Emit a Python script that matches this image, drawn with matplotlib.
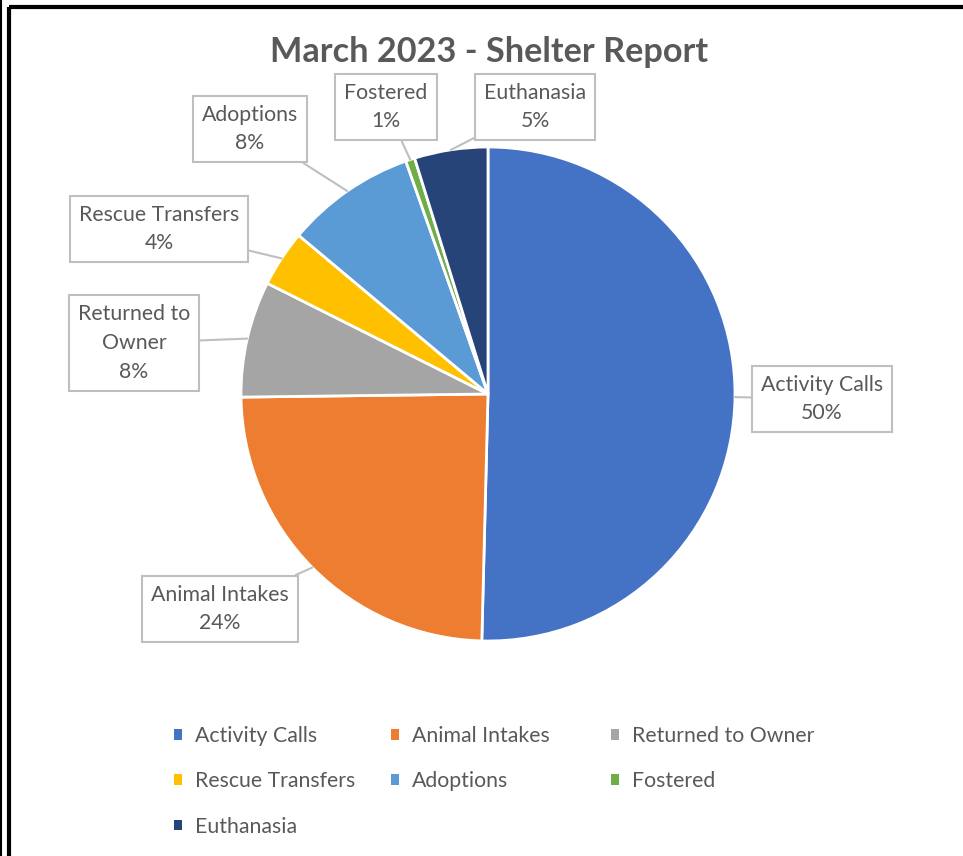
import matplotlib
matplotlib.use('Agg')
import matplotlib.pyplot as plt
from matplotlib.patches import Patch
import numpy as np

# data (percent of total)
categories = ['Activity Calls', 'Animal Intakes', 'Returned to Owner',
              'Rescue Transfers', 'Adoptions', 'Fostered', 'Euthanasia']
values = [50.4, 24.4, 7.6, 3.7, 8.5, 0.6, 4.8]
colors = ['#4472C4', '#ED7D31', '#A5A5A5', '#FFC000', '#5B9BD5', '#70AD47', '#264478']
label_text = ['Activity Calls\n50%', 'Animal Intakes\n24%', 'Returned to\nOwner\n8%',
              'Rescue Transfers\n4%', 'Adoptions\n8%', 'Fostered\n1%', 'Euthanasia\n5%']

W, H = 963, 856
plt.rcParams['font.family'] = ['Lato', 'DejaVu Sans']
txt_color = '#595959'
fs = 15.3

fig = plt.figure(figsize=(W / 100, H / 100), dpi=100)
ax = fig.add_axes([0, 0, 1, 1])

cx, cy, r = 488, H - 394, 247
wedges, _ = ax.pie(values, colors=colors, startangle=90, counterclock=False,
                   center=(cx, cy), radius=r, frame=True,
                   wedgeprops=dict(edgecolor='white', linewidth=2))
ax.set_xlim(0, W)
ax.set_ylim(0, H)
ax.set_aspect('equal')
ax.axis('off')

# callout positions (box centers, pixel coords from top)
label_pos = [(822, 399), (220, 609), (134, 343), (159, 229), (250, 129), (386, 107), (535, 107)]
for w, txt, (lx, ly) in zip(wedges, label_text, label_pos):
    mid = np.deg2rad((w.theta1 + w.theta2) / 2)
    px, py = cx + r * np.cos(mid), cy + r * np.sin(mid)
    ax.annotate(txt, xy=(px, py), xytext=(lx, H - ly), ha='center', va='center',
                fontsize=fs, color=txt_color, linespacing=1.55,
                bbox=dict(boxstyle='square,pad=0.42', fc='white', ec='#BFBFBF', lw=1.5),
                arrowprops=dict(arrowstyle='-', color='#BFBFBF', lw=1.5,
                                shrinkA=0, shrinkB=0))

ax.text(489, H - 52, 'March 2023 - Shelter Report', ha='center', va='center',
        fontsize=24.7, fontweight='bold', color=txt_color)

# legend: equal-width columns, filled row by row like the original
handles = [Patch(facecolor=c, edgecolor='none') for c in colors]
col_x = [174, 391, 611]
leg_kw = dict(loc='upper left', frameon=False, fontsize=fs, handlelength=0.38,
              handleheight=0.38, handletextpad=0.6, labelspacing=1.19,
              borderaxespad=0, borderpad=0)
for c, x0 in enumerate(col_x):
    idx = list(range(c, len(categories), 3))
    leg = ax.legend([handles[i] for i in idx], [categories[i] for i in idx],
                    bbox_to_anchor=(x0 / W, 1 - 726 / H), **leg_kw)
    for t in leg.get_texts():
        t.set_color(txt_color)
    ax.add_artist(leg)
ax.legend_ = None

# frame edges of the original screenshot
ax.plot([9, W], [H - 7, H - 7], color='black', lw=3, solid_capstyle='butt')
ax.plot([9, 9], [0, H - 7], color='black', lw=3, solid_capstyle='butt')
ax.plot([1, 1], [0, H], color='black', lw=1.5)

fig.savefig('out.png', dpi=100)
